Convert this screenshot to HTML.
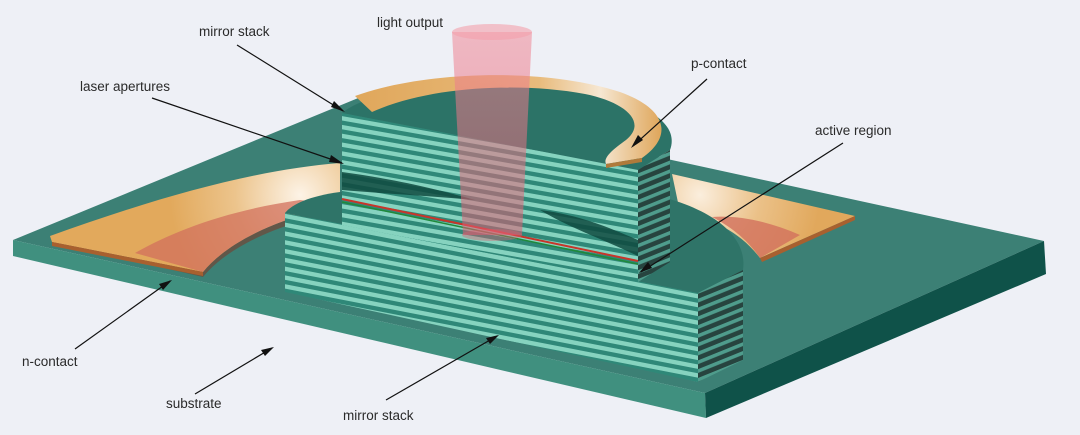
<!DOCTYPE html>
<html><head><meta charset="utf-8"><style>
html,body{margin:0;padding:0;background:#eef0f6;}
svg{display:block}
text{font-family:"Liberation Sans",sans-serif;font-size:13.5px;fill:#2a2a2a}
</style></head><body>
<svg width="1080" height="435" viewBox="0 0 1080 435" xmlns="http://www.w3.org/2000/svg">
<defs>
<pattern id="stF" patternUnits="userSpaceOnUse" width="20" height="8.8" patternTransform="skewY(11)">
<rect width="20" height="8.8" fill="#2f8878"/><rect y="0" width="20" height="4.4" fill="#86d3bf"/>
</pattern>
<pattern id="stU" patternUnits="userSpaceOnUse" width="20" height="8.8" patternTransform="skewY(10) translate(0,3)">
<rect width="20" height="8.8" fill="#2f8878"/><rect y="0" width="20" height="4.4" fill="#86d3bf"/>
</pattern>
<pattern id="stS" patternUnits="userSpaceOnUse" width="20" height="8.8" patternTransform="skewY(-22)">
<rect width="20" height="8.8" fill="#27443f"/><rect y="0" width="20" height="3.8" fill="#4f9c8c"/>
</pattern>
<radialGradient id="glowL" cx="300" cy="195" r="130" gradientUnits="userSpaceOnUse">
<stop offset="0" stop-color="#fdf3e6"/><stop offset="0.5" stop-color="#ecc48c"/><stop offset="1" stop-color="#e2a95c"/>
</radialGradient>
<radialGradient id="glowR" cx="700" cy="195" r="120" gradientUnits="userSpaceOnUse">
<stop offset="0" stop-color="#fbeedd"/><stop offset="0.5" stop-color="#ebc188"/><stop offset="1" stop-color="#e1a85c"/>
</radialGradient>
<linearGradient id="pc" x1="0" y1="0" x2="1" y2="0">
<stop offset="0" stop-color="#e0a75b"/><stop offset="0.6" stop-color="#e8bb7c"/><stop offset="0.8" stop-color="#f6e7d2"/><stop offset="1" stop-color="#dfa65a"/>
</linearGradient>
<linearGradient id="beam" x1="0" y1="0" x2="0" y2="1">
<stop offset="0" stop-color="#f08a98" stop-opacity="0.55"/><stop offset="1" stop-color="#e05a70" stop-opacity="0.55"/>
</linearGradient>
</defs>

<!-- substrate -->
<path d="M13,240 L368,94 L1044,241 L705,393 Z" fill="#3c8075"/>
<path d="M13,240 L705,393 L706,418 L13,256 Z" fill="#40907f"/>
<path d="M705,393 L1044,241 L1046,274 L706,418 Z" fill="#0f5249"/>

<!-- left n-contact -->
<path d="M52,242 L203,277 C225,250 270,226 340,211 L340,205 Z" fill="#7a3c2c" opacity="0.6"/>
<path d="M50,236 C150,200 250,170 340,163 L340,205 C270,220 225,245 203,272 L52,242 Z" fill="url(#glowL)"/>
<path d="M135,253 C175,230 230,210 300,200 L340,205 C270,220 225,245 203,272 Z" fill="#d2705c" opacity="0.75"/>
<path d="M52,242 L203,272 L203,276 L52,246 Z" fill="#a8602f"/>

<!-- right n-contact -->
<path d="M672,174 L855,216 L760,258 C740,232 715,220 680,212 Z" fill="url(#glowR)"/>
<path d="M800,235 L760,258 C748,240 730,226 712,217 C740,215 770,222 800,235Z" fill="#d2705c" opacity="0.8"/>
<path d="M855,216 L855,220 L762,262 L760,258 Z" fill="#a8602f"/>

<!-- lower mesa -->
<path d="M285,213 L698,293 L743,270 C748,235 710,205 640,192 L340,192 C310,196 292,204 285,213 Z" fill="#2f7468"/>
<path d="M285,213 L698,293 L698,382 L285,292 Z" fill="url(#stF)"/>
<path d="M698,293 L743,270 L743,360 L698,382 Z" fill="url(#stS)"/>

<!-- upper stack -->
<path d="M342,113 L638,170 L670,150 C685,110 600,84 500,82 C420,82 362,96 342,113 Z" fill="#2c7367"/>
<path d="M342,113 L638,170 L638,282 L342,225 Z" fill="url(#stU)"/>
<path d="M342,172 C400,180 440,190 475,200 C430,196 390,194 342,190 Z" fill="#0f4a40" opacity="0.85"/>
<path d="M540,210 C580,215 610,228 638,240 L638,256 C600,238 570,228 540,210 Z" fill="#0f4a40" opacity="0.85"/>
<path d="M342,199 L638,261" stroke="#c8352a" stroke-width="2"/>
<path d="M342,202 L638,264" stroke="#1f8a3a" stroke-width="1.5"/>
<path d="M638,170 L670,150 L670,262 L638,282 Z" fill="url(#stS)"/>

<!-- p-contact -->
<path d="M355,96 C420,72 540,66 620,92 C665,108 675,135 642,158 L606,164 C603,158 612,150 626,140 C648,122 625,102 585,94 C520,82 430,86 372,112 Z" fill="url(#pc)"/>
<path d="M606,164 L642,158 L642,162 L606,168 Z" fill="#b07a3a"/>

<!-- beam -->
<path d="M452,32 L532,32 L522,235 L463,235 Z" fill="url(#beam)"/>
<ellipse cx="492" cy="32" rx="40" ry="8" fill="#f4a0ac" opacity="0.6"/>
<ellipse cx="492" cy="235" rx="30" ry="6" fill="#e06070" opacity="0.4"/>

<!-- labels -->
<text x="377" y="27">light output</text>
<text x="199" y="36">mirror stack</text>
<text x="80" y="91">laser apertures</text>
<text x="691" y="68">p-contact</text>
<text x="815" y="135">active region</text>
<text x="22" y="366">n-contact</text>
<text x="166" y="408">substrate</text>
<text x="343" y="420">mirror stack</text>

<!-- arrows -->
<g stroke="#111" stroke-width="1.2" fill="none">
<path d="M237,45 L343,111"/>
<path d="M152,98 L342,163"/>
<path d="M707,79 L633,146"/>
<path d="M843,143 L641,272"/>
<path d="M75,349 L170,281"/>
<path d="M195,394 L272,348"/>
<path d="M386,400 L497,336"/>
</g>
<g fill="#111">
<path d="M345,112 L334,101 L331,107 Z"/>
<path d="M344,164 L331,155 L329,162 Z"/>
<path d="M631,148 L643,140 L638,135 Z"/>
<path d="M639,273 L652,268 L648,262 Z"/>
<path d="M172,280 L159,284 L163,290 Z"/>
<path d="M274,347 L261,350 L265,356 Z"/>
<path d="M499,335 L486,338 L490,344 Z"/>
</g>
</svg>
</body></html>
